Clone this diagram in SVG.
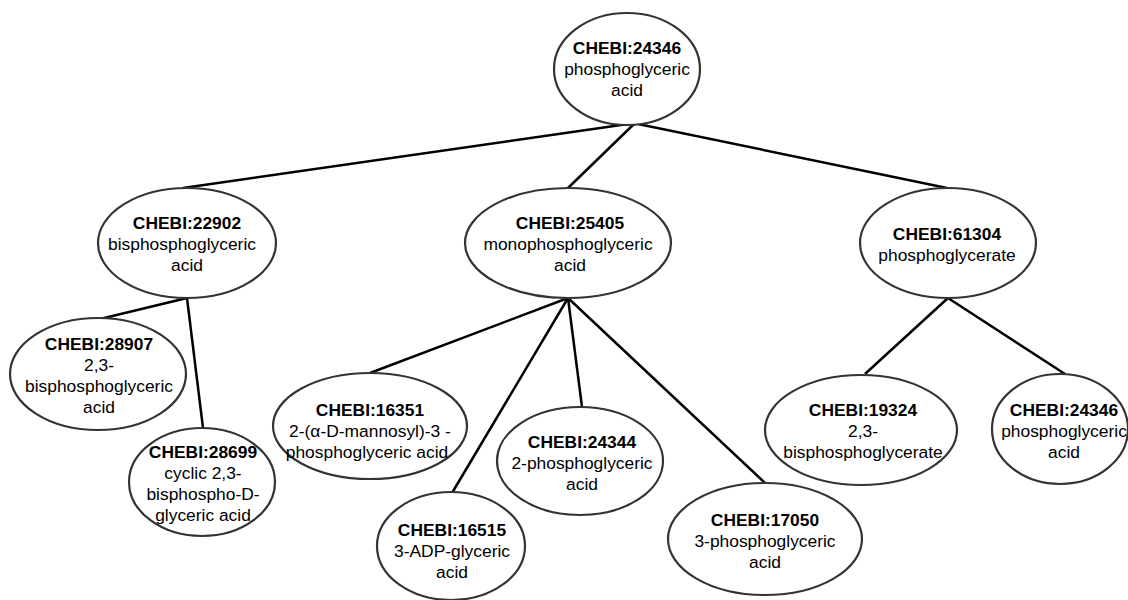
<svg xmlns="http://www.w3.org/2000/svg" width="1128" height="600" viewBox="0 0 1128 600">
<style>
.n ellipse{fill:#fff;stroke:#333;stroke-width:2.2}
.n text{font-family:"Liberation Sans",Arial,sans-serif;font-size:17.4px;fill:#000;text-anchor:middle}
.n .b{font-weight:bold}
#edges line{stroke:#000;stroke-width:2.5}
</style>
<rect width="1128" height="600" fill="#fff"/>
<g id="edges">
<line x1="628" y1="124" x2="183" y2="188"/>
<line x1="634" y1="124" x2="568" y2="188"/>
<line x1="638" y1="124" x2="947" y2="188"/>
<line x1="187" y1="298" x2="100" y2="319"/>
<line x1="187" y1="298" x2="203" y2="428"/>
<line x1="568" y1="298" x2="370" y2="373"/>
<line x1="568" y1="298" x2="452" y2="493"/>
<line x1="568" y1="298" x2="582" y2="407"/>
<line x1="568" y1="298" x2="765" y2="483"/>
<line x1="948" y1="298" x2="865" y2="374"/>
<line x1="948" y1="298" x2="1065" y2="374"/>
</g>
<g id="n24346top" class="n">
<ellipse cx="627" cy="69" rx="73" ry="56"/>
<text class="b" x="627" y="54">CHEBI:24346</text>
<text x="627" y="75">phosphoglyceric</text>
<text x="627" y="96">acid</text>
</g>
<g id="n22902" class="n">
<ellipse cx="187" cy="243" rx="89" ry="55"/>
<text class="b" x="187" y="229">CHEBI:22902</text>
<text x="182" y="250">bisphosphoglyceric</text>
<text x="187" y="271">acid</text>
</g>
<g id="n25405" class="n">
<ellipse cx="568" cy="243" rx="103" ry="55"/>
<text class="b" x="570" y="229">CHEBI:25405</text>
<text x="568" y="250">monophosphoglyceric</text>
<text x="570" y="271">acid</text>
</g>
<g id="n61304" class="n">
<ellipse cx="948" cy="243" rx="88" ry="55"/>
<text class="b" x="947" y="240">CHEBI:61304</text>
<text x="947" y="261">phosphoglycerate</text>
</g>
<g id="n28907" class="n">
<ellipse cx="98" cy="374" rx="88" ry="56"/>
<text class="b" x="99" y="350">CHEBI:28907</text>
<text x="99" y="371">2,3-</text>
<text x="99" y="392">bisphosphoglyceric</text>
<text x="99" y="413">acid</text>
</g>
<g id="n28699" class="n">
<ellipse cx="202" cy="482" rx="73" ry="54"/>
<text class="b" x="203" y="458">CHEBI:28699</text>
<text x="203" y="479">cyclic 2,3-</text>
<text x="203" y="500">bisphospho-D-</text>
<text x="203" y="521">glyceric acid</text>
</g>
<g id="n16351" class="n">
<ellipse cx="370" cy="426" rx="97" ry="53"/>
<text class="b" x="370" y="416">CHEBI:16351</text>
<text x="370" y="437">2-(α-D-mannosyl)-3 -</text>
<text x="367" y="458">phosphoglyceric acid</text>
</g>
<g id="n16515" class="n">
<ellipse cx="451" cy="546" rx="74" ry="54"/>
<text class="b" x="452" y="536">CHEBI:16515</text>
<text x="452" y="557">3-ADP-glyceric</text>
<text x="452" y="578">acid</text>
</g>
<g id="n24344" class="n">
<ellipse cx="580" cy="461" rx="83" ry="54"/>
<text class="b" x="582" y="448">CHEBI:24344</text>
<text x="582" y="469">2-phosphoglyceric</text>
<text x="582" y="490">acid</text>
</g>
<g id="n17050" class="n">
<ellipse cx="765" cy="539" rx="97" ry="56"/>
<text class="b" x="765" y="526">CHEBI:17050</text>
<text x="765" y="547">3-phosphoglyceric</text>
<text x="765" y="568">acid</text>
</g>
<g id="n19324" class="n">
<ellipse cx="861" cy="430" rx="96" ry="55"/>
<text class="b" x="863" y="416">CHEBI:19324</text>
<text x="863" y="437">2,3-</text>
<text x="863" y="458">bisphosphoglycerate</text>
</g>
<g id="n24346right" class="n">
<ellipse cx="1060" cy="429" rx="68" ry="55"/>
<text class="b" x="1064" y="416">CHEBI:24346</text>
<text x="1064" y="437">phosphoglyceric</text>
<text x="1064" y="458">acid</text>
</g>
</svg>
